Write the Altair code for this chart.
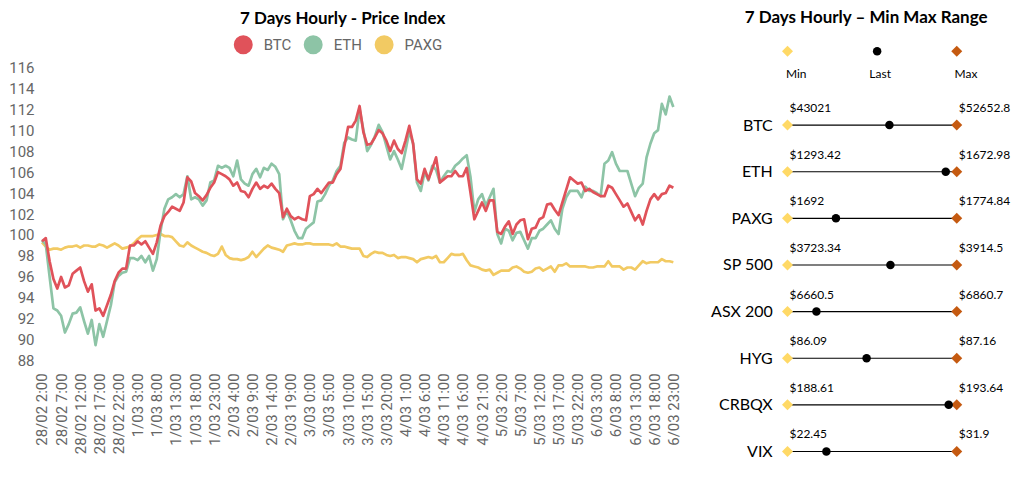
import altair as alt
import pandas as pd

# ---------------- data: 7 days hourly price index ----------------
btc = [99.4, 99.7, 97.5, 95.8, 94.9, 96.0, 95.0, 95.2, 96.3, 96.6,
       96.9, 95.6, 94.6, 95.3, 92.8, 93.0, 92.3, 93.3, 94.3, 95.6,
       96.4, 96.8, 96.8, 99.0, 99.0, 99.4, 99.1, 99.4, 98.8, 98.2,
       99.3, 100.9, 101.8, 102.2, 102.7, 102.5, 102.3, 103.1, 105.5, 105.1,
       104.0, 103.7, 103.3, 103.8, 104.5, 105.0, 106.0, 105.8, 105.6, 105.3,
       104.7, 105.0, 104.2, 104.1, 103.6, 104.4, 105.0, 104.4, 104.7, 104.5,
       104.9, 104.4, 104.0,
       101.7, 102.5, 101.8, 101.5, 101.7, 101.5, 101.4, 103.7, 103.9, 104.4,
       104.0, 104.5, 105.0, 105.0, 105.8, 106.3, 108.4, 110.3, 110.3, 110.9,
       112.3,
       109.8, 108.6, 108.7, 109.3, 110.0, 109.7, 109.0, 108.0, 109.0, 108.2,
       107.8, 109.0, 110.4, 108.7, 105.3, 104.9, 106.3, 105.3, 106.3, 107.4,
       105.0, 105.3, 105.6, 105.6, 106.1, 105.6, 105.6, 106.4, 104.0, 101.5,
       102.3, 103.1, 102.3, 103.3, 103.3, 100.3, 100.1, 100.8, 101.3, 100.1,
       101.0, 101.4,
       101.5, 99.6, 100.6, 100.7, 101.5, 101.7, 102.9, 103.0, 102.4, 101.9,
       103.1, 104.3, 105.5, 105.2, 104.9, 105.0, 104.2, 104.4, 104.1, 103.9,
       103.7, 103.7, 104.7, 104.5, 103.9, 103.3, 102.7, 103.0, 102.2, 101.4,
       101.9, 101.0, 102.3, 103.4, 103.9, 103.4, 103.9, 104.0, 104.7, 104.5]

eth = [99.5, 99.1, 96.0, 93.0, 92.8, 92.3, 90.7, 91.5, 92.5, 92.6,
       93.1, 91.8, 90.6, 91.9, 89.5, 91.5, 90.3, 91.8, 93.3, 95.5,
       96.1, 96.4, 96.5, 97.8, 97.8, 97.6, 98.0, 97.4, 98.0, 96.6,
       97.7, 100.4, 102.5, 103.4, 103.6, 103.9, 103.6, 103.9, 105.6, 103.4,
       103.6, 103.4, 102.8, 103.3, 105.0, 105.2, 106.6, 106.4, 106.6, 106.4,
       105.6, 107.1, 105.3, 104.9, 104.7, 105.8, 106.3, 105.5, 106.4, 106.2,
       106.8, 106.5, 105.8,
       101.5, 102.3, 101.4, 100.4, 99.7, 99.7, 100.6, 100.9, 101.2, 103.2,
       103.3, 103.9, 104.7, 105.2, 106.1, 106.6, 108.8, 109.3, 109.1, 109.0,
       112.0,
       110.0, 108.0, 108.6, 109.4, 110.5, 109.8, 108.5, 107.2, 108.0, 107.2,
       106.3, 108.0, 109.9, 108.7, 105.0, 104.2, 106.0, 105.2, 106.6, 106.2,
       105.0, 105.6, 106.1, 106.0, 106.6, 106.9, 107.3, 107.6, 105.5, 102.2,
       103.4, 103.9, 102.8, 103.6, 104.4, 100.1, 99.2, 100.6, 100.4, 99.5,
       100.2, 100.3,
       99.5, 98.7, 99.7, 99.7, 100.4, 100.6, 101.0, 101.4, 100.6, 100.1,
       102.5, 103.6, 104.2, 104.2, 104.2, 103.6, 104.6, 104.2, 104.2, 104.0,
       103.7, 106.8, 107.1, 107.9, 106.8, 106.1, 106.1, 106.1, 104.9, 103.7,
       104.5, 104.9, 107.4, 108.7, 109.7, 110.0, 112.5, 111.5, 113.2, 112.2]

paxg = [99.3, 98.9, 98.6, 98.7, 98.7, 98.6, 98.8, 98.9, 98.9, 99.0,
        98.8, 99.0, 99.0, 98.9, 98.9, 99.1, 99.0, 98.8, 99.0, 99.2,
        99.0, 98.7, 98.8, 98.9, 99.2, 99.6, 99.9, 99.9, 99.9, 99.9,
        100.0, 100.1, 99.9, 99.9, 99.8, 99.4, 99.0, 98.9, 99.3, 99.0,
        98.8, 98.6, 98.4, 98.3, 98.1, 98.0, 98.2, 98.9, 98.1, 97.8,
        97.7, 97.7, 97.6, 97.7, 97.9, 98.4, 97.9, 98.3, 98.7, 99.0,
        98.8, 98.7, 98.6, 98.4, 99.0, 99.1, 99.2, 99.1, 99.1, 99.2,
        99.2, 99.1, 99.1, 99.1, 99.1, 99.1, 99.0, 99.2, 98.9, 98.9,
        98.8, 98.7, 98.7, 98.7, 98.0, 97.9, 98.2, 98.4, 98.3, 98.3,
        98.1, 98.0, 98.1, 97.8, 97.9, 97.9, 97.8, 97.7, 97.4, 97.7,
        97.8, 97.9, 97.8, 98.0, 97.4, 97.4, 97.8, 98.2, 98.1, 98.1,
        98.2, 97.6, 97.1, 97.0, 96.9, 96.7, 96.6, 96.7, 96.2, 96.4,
        96.6, 96.6, 96.6, 96.9, 97.0, 96.8, 96.5, 96.4, 96.5, 96.8,
        96.9, 96.6, 96.8, 97.0, 96.5, 97.1, 97.1, 97.3, 97.0, 97.0,
        97.0, 97.0, 97.0, 96.9, 96.9, 97.0, 97.0, 97.0, 97.5, 97.0,
        97.0, 97.0, 96.7, 96.9, 96.9, 96.7, 97.1, 97.5, 97.3, 97.4,
        97.4, 97.4, 97.7, 97.5, 97.5, 97.4]

series_names = ["BTC", "ETH", "PAXG"]
series_colors = ["#E0525A", "#8DC4A6", "#F2CA63"]
y_ticks = list(range(88, 117, 2))

times = pd.date_range("2021-02-28 02:00", periods=len(btc), freq="h")
time_labels = [f"{t.day}/{t.month:02d} {t.hour}:00" for t in times]
tick_labels = time_labels[::5]

# ---------------- data: min / max range ----------------
assets = ["BTC", "ETH", "PAXG", "SP 500", "ASX 200", "HYG", "CRBQX", "VIX"]
mins = [43021, 1293.42, 1692, 3723.34, 6660.5, 86.09, 188.61, 22.45]
maxs = [52652.8, 1672.98, 1774.84, 3914.5, 6860.7, 87.16, 193.64, 31.9]
lasts = [48820, 1648.3, 1715.7, 3839.6, 6694.7, 86.59, 193.40, 24.62]

# ---------------- left chart ----------------
rows = []
for name, vals in zip(series_names, [btc, eth, paxg]):
    for lab, v in zip(time_labels, vals):
        rows.append({"time": lab, "series": name, "value": v})
df = pd.DataFrame(rows)

x_enc = alt.X("time:O", sort=time_labels,
              scale=alt.Scale(type="point", padding=0),
              axis=alt.Axis(values=tick_labels, labelAngle=-90, title=None,
                            ticks=False, domain=False, grid=False,
                            labelFont="Roboto", labelFontSize=15,
                            labelColor="#666666", labelPadding=12,
                            labelOverlap=False))
y_enc = alt.Y("value:Q", scale=alt.Scale(domain=[88, 116], nice=False, zero=False),
              axis=alt.Axis(values=y_ticks, title=None, ticks=False, domain=False,
                            grid=False, labelFont="Roboto", labelFontSize=15,
                            labelColor="#666666", labelPadding=8))
c_enc = alt.Color("series:N",
                  scale=alt.Scale(domain=series_names, range=series_colors),
                  legend=alt.Legend(orient="none", legendX=192, legendY=-32,
                                    direction="horizontal", title=None,
                                    symbolType="circle", symbolSize=90,
                                    symbolStrokeWidth=9.5, gridAlign="none",
                                    labelFont="Roboto", labelFontSize=15,
                                    labelColor="#666666", labelOffset=11,
                                    columnPadding=-3))

base_left = alt.Chart(df).mark_line(strokeWidth=2.7, strokeJoin="round").encode(
    x=x_enc, y=y_enc, color=c_enc)
left = alt.layer(
    *[base_left.transform_filter(alt.datum.series == s) for s in ["PAXG", "ETH", "BTC"]]
).properties(
    width=632, height=294,
    title=alt.TitleParams("7 Days Hourly - Price Index", font="Lato", fontSize=17,
                          fontWeight="bold", color="black", frame="group",
                          anchor="middle", dx=-15, offset=32, limit=600))

# ---------------- right chart ----------------
def money(v):
    return f"${v:g}"

df2 = pd.DataFrame({
    "asset": assets, "min": mins, "max": maxs, "last": lasts,
    "min_label": [money(v) for v in mins],
    "max_label": [money(v) for v in maxs],
})

xs = alt.Scale(domain=[0, 1], range=[7.3, 176.7])
ys = alt.Scale(type="point", domain=assets, range=[58, 384.7], padding=0)
Y = alt.Y("asset:N", scale=ys, sort=assets,
          axis=alt.Axis(title=None, ticks=False, domain=False, grid=False,
                        labelFont="Lato", labelFontSize=16, labelColor="black",
                        labelPadding=8))

rbase = alt.Chart(df2).transform_calculate(
    p_min="0", p_max="1",
    p_last="(datum.last - datum.min) / (datum.max - datum.min)")

rule = rbase.mark_rule(color="black", strokeWidth=1.2).encode(
    x=alt.X("p_min:Q", scale=xs, axis=None), x2="p_max:Q", y=Y)
pmin = rbase.mark_point(shape="diamond", filled=True, size=121, opacity=1,
                        color="#FFD966").encode(x=alt.X("p_min:Q", scale=xs, axis=None), y=Y)
pmax = rbase.mark_point(shape="diamond", filled=True, size=121, opacity=1,
                        color="#C55A11").encode(x=alt.X("p_max:Q", scale=xs, axis=None), y=Y)
plast = rbase.mark_circle(size=72, opacity=1, color="black").encode(
    x=alt.X("p_last:Q", scale=xs, axis=None), y=Y)
tmin = rbase.mark_text(align="left", baseline="middle", dx=2, dy=-17, font="Lato",
                       fontSize=12, color="black").encode(
    x=alt.X("p_min:Q", scale=xs, axis=None), y=Y, text="min_label:N")
tmax = rbase.mark_text(align="left", baseline="middle", dx=2, dy=-17, font="Lato",
                       fontSize=12, color="black").encode(
    x=alt.X("p_max:Q", scale=xs, axis=None), y=Y, text="max_label:N")

# custom legend (Min / Last / Max)
legend_items = ["Min", "Last", "Max"]
ldf = pd.DataFrame({"item": legend_items})
lg = alt.Chart(ldf)
lg_min = lg.transform_filter(alt.datum.item == "Min").mark_point(
    shape="diamond", filled=True, size=121, opacity=1, color="#FFD966").encode(
    x=alt.value(7.3), y=alt.value(-16))
lg_last = lg.transform_filter(alt.datum.item == "Last").mark_circle(
    size=72, opacity=1, color="black").encode(x=alt.value(97), y=alt.value(-16))
lg_max = lg.transform_filter(alt.datum.item == "Max").mark_point(
    shape="diamond", filled=True, size=121, opacity=1, color="#C55A11").encode(
    x=alt.value(176.7), y=alt.value(-16))
txt = dict(font="Lato", fontSize=12, color="black", baseline="middle", align="center")
lt_min = lg.transform_filter(alt.datum.item == "Min").mark_text(**txt).encode(
    x=alt.value(16), y=alt.value(7), text="item:N")
lt_last = lg.transform_filter(alt.datum.item == "Last").mark_text(**txt).encode(
    x=alt.value(100), y=alt.value(7), text="item:N")
lt_max = lg.transform_filter(alt.datum.item == "Max").mark_text(**txt).encode(
    x=alt.value(186), y=alt.value(7), text="item:N")

right = alt.layer(rule, pmin, pmax, plast, tmin, tmax,
                  lg_min, lg_last, lg_max, lt_min, lt_last, lt_max).properties(
    width=232, height=396,
    title=alt.TitleParams("7 Days Hourly \u2013 Min Max Range", font="Lato", fontSize=17,
                          fontWeight="bold", color="black", frame="group",
                          anchor="middle", dx=-30, offset=19, limit=600))

chart = alt.hconcat(left, right, spacing=29).properties(
    padding={"left": 0, "top": 0, "right": 0, "bottom": 0},
    background="white"
).configure_view(stroke=None)

chart.save("out.html", embed_options={"renderer": "svg", "actions": False})
